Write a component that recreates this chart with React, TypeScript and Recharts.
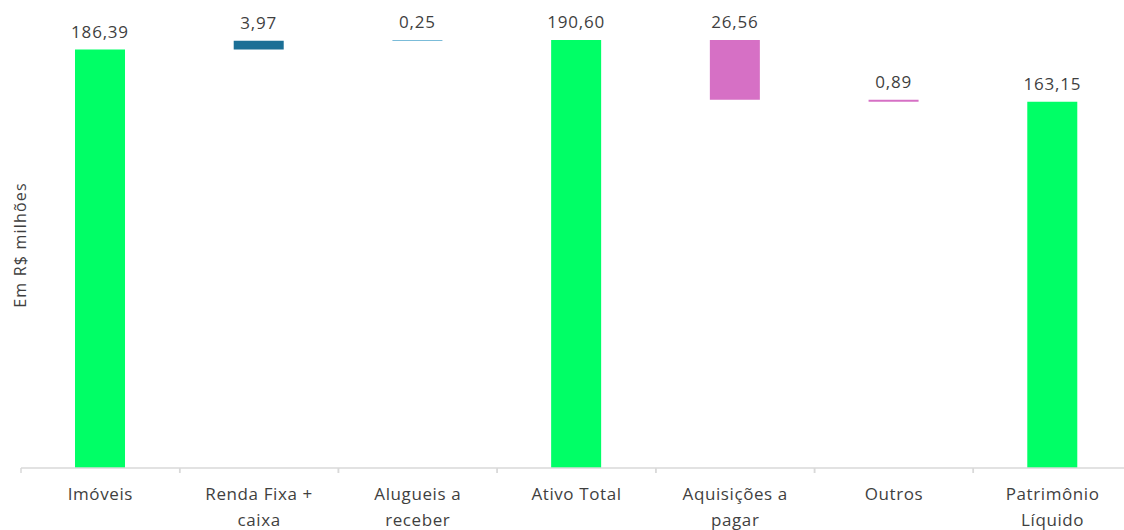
import React from 'react';
import { BarChart, Bar, XAxis, YAxis, Cell, LabelList } from 'recharts';

// Waterfall da composição patrimonial (R$ milhões)
const categories = [
  'Imóveis',
  'Renda Fixa +\ncaixa',
  'Alugueis a\nreceber',
  'Ativo Total',
  'Aquisições a\npagar',
  'Outros',
  'Patrimônio\nLíquido',
];
const values = [186.39, 3.97, 0.25, 190.6, -26.56, -0.89, 163.15];
const kinds = ['total', 'up', 'up', 'total', 'down', 'down', 'total'];
const barColors = ['#00FF66', '#1B6F96', '#4FA6CC', '#00FF66', '#D670C5', '#D670C5', '#00FF66'];

const FONT = '"Open Sans", sans-serif';
const TEXT = '#3f3f3f';
const AXIS = '#d9d9d9';

const CHART_W = 1140;
const MARGIN = { top: 19, right: 8, left: 21, bottom: 0 };
const BAND = (CHART_W - MARGIN.left - MARGIN.right) / categories.length;

const buildData = () => {
  let running = 0;
  return categories.map((name, i) => {
    const v = values[i];
    let base = 0;
    if (kinds[i] === 'total') {
      base = 0;
      running = v;
    } else if (kinds[i] === 'up') {
      base = running;
      running += v;
    } else {
      running += v;
      base = running;
    }
    return { name, base, amount: Math.abs(v) };
  });
};

const fmt = (v: any) => Number(v).toFixed(2).replace('.', ',');

const CategoryTick = (props: any) => {
  const { x, y, payload } = props;
  const lines = String(payload.value).split('\n');
  const left = x - BAND / 2;
  return (
    <g>
      <line x1={left} x2={left} y1={y} y2={y + 5} stroke={AXIS} strokeWidth={1.5} />
      <line x1={left + BAND} x2={left + BAND} y1={y} y2={y + 5} stroke={AXIS} strokeWidth={1.5} />
      <text
        x={x}
        y={y}
        textAnchor="middle"
        fill={TEXT}
        fontSize={17}
        fontFamily={FONT}
        letterSpacing={0.6}
      >
        {lines.map((line, i) => (
          <tspan key={i} x={x} dy={i === 0 ? 32 : 26}>
            {line}
          </tspan>
        ))}
      </text>
    </g>
  );
};

export default function App() {
  const data = React.useMemo(buildData, []);

  return (
    <div
      style={{
        position: 'fixed',
        left: 0,
        top: 0,
        width: 1124,
        height: 530,
        overflow: 'hidden',
        background: '#fff',
      }}
    >
      <BarChart width={CHART_W} height={530} data={data} margin={MARGIN} barSize={50}>
        <YAxis hide domain={[0, 200]} />
        <XAxis
          dataKey="name"
          interval={0}
          height={62}
          axisLine={{ stroke: AXIS, strokeWidth: 1.5 }}
          tickLine={false}
          tickSize={0}
          tickMargin={0}
          tick={<CategoryTick />}
        />
        <Bar dataKey="base" stackId="w" fill="transparent" isAnimationActive={false} />
        <Bar dataKey="amount" stackId="w" isAnimationActive={false}>
          {data.map((_d, i) => (
            <Cell key={`c-${i}`} fill={barColors[i]} />
          ))}
          <LabelList
            dataKey="amount"
            position="top"
            offset={12}
            formatter={fmt}
            fill={TEXT}
            fontSize={17}
            fontFamily={FONT}
            letterSpacing={0.8}
          />
        </Bar>
      </BarChart>
      <div
        style={{
          position: 'absolute',
          left: 20,
          top: 245,
          transform: 'translate(-50%, -50%) rotate(-90deg)',
          whiteSpace: 'nowrap',
          fontFamily: FONT,
          fontSize: 16,
          letterSpacing: 1.2,
          color: TEXT,
        }}
      >
        Em R$ milhões
      </div>
    </div>
  );
}
